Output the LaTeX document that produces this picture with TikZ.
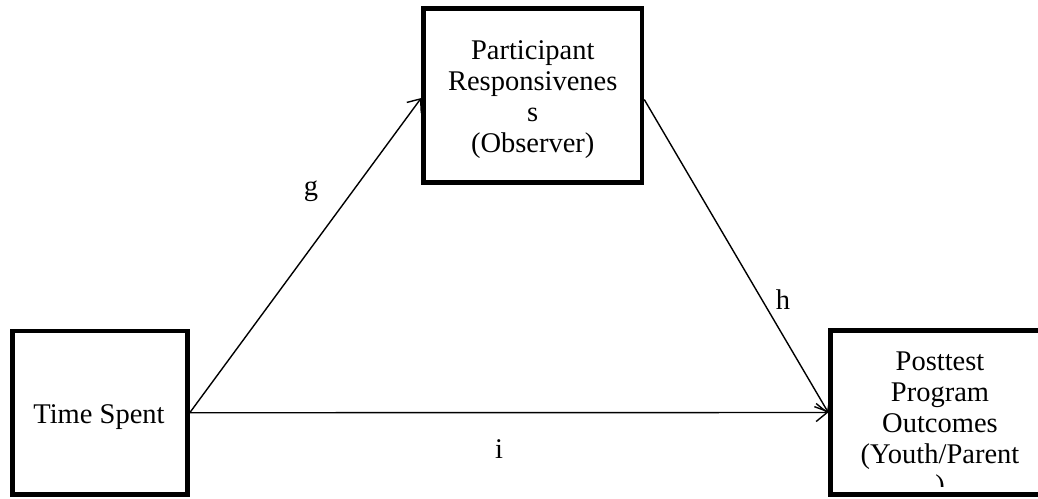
\documentclass[tikz,border=0pt]{standalone}
\usepackage{fontspec}
\setmainfont{Liberation Serif}
\usetikzlibrary{arrows.meta}
\begin{document}
\begin{tikzpicture}[x=1pt,y=-1pt,
  varbox/.style={draw=black, line width=4.5pt, rectangle, inner sep=0pt},
  boxtext/.style={align=center, inner sep=0pt, font=\fontsize{28.5}{31}\selectfont},
  pathlabel/.style={inner sep=0pt, anchor=base, font=\fontsize{28.5}{31}\selectfont},
  path/.style={line width=1.4pt, -{Straight Barb[length=11pt,width=18pt,line width=1.4pt]}}]
\useasboundingbox (0,0) rectangle (1038,498);
\clip (0,0) rectangle (1038,498);

% box texts (anchored on the baseline of their last line)
\node[boxtext, anchor=base] (midtext) at (532.75,152)
  {Participant\\Responsivenes\\s\\(Observer)};
\node[boxtext, anchor=base] (lefttext) at (99,423) {Time Spent};
\begin{scope}
  % the outcome text runs past the bottom of its frame
  \clip (833,333) rectangle (1038,486);
  \node[boxtext, anchor=base] (righttext) at (940,494)
    {Posttest\\Program\\Outcomes\\(Youth/Parent\\)};
\end{scope}

% variable boxes
\node[varbox, minimum width=218.5pt, minimum height=174pt] (mid) at (532.75,95.5) {};
\node[varbox, minimum width=175pt, minimum height=163.5pt] (left) at (100,412.75) {};
\node[varbox, minimum width=215pt, minimum height=164pt] (right) at (938,412.5) {};

% paths
\coordinate (gend) at ([yshift=-2.5pt]mid.west);
\coordinate (hstart) at ([yshift=-4pt]mid.east);
\draw[path] (left.east) -- (gend);
\draw[path] (hstart) -- (right.west);
\draw[path] (left.east) -- (right.west);

% path labels
\node[pathlabel] (g) at (311,195) {g};
\node[pathlabel] (h) at (783,309) {h};
\node[pathlabel] (i) at (499,458) {i};
\end{tikzpicture}
\end{document}
